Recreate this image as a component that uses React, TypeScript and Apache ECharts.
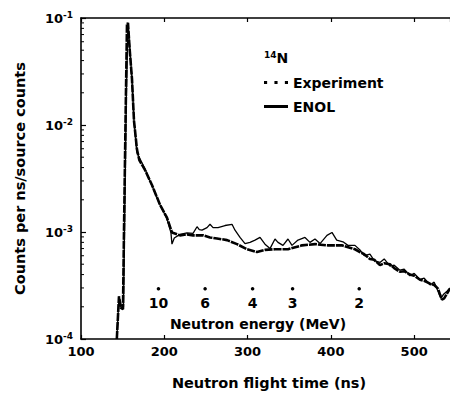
import React, { useEffect, useRef } from "react";
import * as echarts from "echarts";

// ---- data ----
const expTime = [143, 145.6, 148, 150.4, 151.6, 153.4, 155.2, 156.4, 158.5, 161.2, 163.6, 167.2, 170, 176.8, 185.2, 194.8, 203.2, 209.2, 218.8, 227.3, 234.5, 246.5, 254.9, 263.3, 275.3, 287.3, 299.3, 311.3, 320.9, 332.9, 348.5, 365.3, 380.9, 396.5, 413.3, 428.9, 434.9, 440, 446.9, 452, 458.9, 464, 470.9, 476, 482.9, 488, 494.9, 500, 507, 512, 519, 524, 528.6, 531, 533.4, 536, 539.4, 543];
const expCounts = [1.0e-4, 2.5e-4, 1.95e-4, 1.9e-4, 1.0e-3, 1.0e-2, 8.6e-2, 9.0e-2, 5.0e-2, 2.7e-2, 1.1e-2, 5.9e-3, 4.7e-3, 3.8e-3, 2.75e-3, 1.8e-3, 1.36e-3, 9.9e-4, 9.3e-4, 9.5e-4, 9.3e-4, 9.3e-4, 8.9e-4, 8.7e-4, 8.4e-4, 7.7e-4, 6.9e-4, 6.5e-4, 6.8e-4, 6.9e-4, 6.9e-4, 7.5e-4, 7.7e-4, 7.5e-4, 7.5e-4, 6.9e-4, 6.5e-4, 6.2e-4, 5.6e-4, 5.5e-4, 4.9e-4, 5.1e-4, 5.0e-4, 4.6e-4, 4.25e-4, 4.3e-4, 4.0e-4, 3.9e-4, 3.58e-4, 3.5e-4, 3.29e-4, 3.2e-4, 2.96e-4, 2.6e-4, 2.34e-4, 2.4e-4, 2.66e-4, 2.96e-4];

const enolTime = [143, 145.6, 148, 151, 152.5, 154.5, 156.4, 158, 161.2, 163.6, 167.2, 176.8, 185.2, 194.8, 203.2, 208, 209.2, 212, 218.8, 227.3, 234.5, 239.3, 242, 245.3, 251.3, 254.9, 258.5, 264.5, 272.9, 281.3, 284.9, 290.9, 296.9, 302.9, 308.9, 314.9, 320.9, 326.9, 332.9, 336.5, 342.5, 348.5, 353.3, 360.5, 368.9, 374.9, 380.9, 387, 395.3, 401.3, 407, 414.5, 420.5, 428.9, 434.9, 440, 446.9, 452, 458.9, 464, 470.9, 476, 482.9, 488, 494.9, 500, 507, 512, 519, 524, 528.6, 532, 535, 539.4, 543];
const enolCounts = [1.0e-4, 2.5e-4, 1.95e-4, 2.0e-4, 1.5e-3, 2.0e-2, 8.8e-2, 6.0e-2, 2.7e-2, 1.1e-2, 5.5e-3, 3.9e-3, 2.7e-3, 1.8e-3, 1.33e-3, 9.8e-4, 7.7e-4, 8.8e-4, 9.5e-4, 9.8e-4, 9.7e-4, 1.12e-3, 1.05e-3, 1.04e-3, 1.1e-3, 1.18e-3, 1.1e-3, 1.1e-3, 1.15e-3, 1.18e-3, 1.04e-3, 8.9e-4, 7.8e-4, 8.0e-4, 8.4e-4, 8.9e-4, 7.7e-4, 7.0e-4, 8.6e-4, 8.0e-4, 7.5e-4, 8.6e-4, 7.5e-4, 8.4e-4, 8.9e-4, 8.0e-4, 8.6e-4, 7.8e-4, 9.3e-4, 9.9e-4, 8.4e-4, 8.1e-4, 7.5e-4, 7.5e-4, 6.8e-4, 6.0e-4, 6.2e-4, 5.4e-4, 5.2e-4, 5.6e-4, 4.8e-4, 4.9e-4, 4.4e-4, 4.5e-4, 3.9e-4, 4.1e-4, 3.6e-4, 3.7e-4, 3.2e-4, 3.4e-4, 2.8e-4, 2.4e-4, 2.6e-4, 2.8e-4, 3.0e-4];

// secondary energy scale printed inside the plot
const energyMeV = [10, 6, 4, 3, 2];
const energyTime = [193, 249, 306, 354, 434];
const ENERGY_ROW = 2.95e-4;

const X_MIN = 100;
const X_MAX = 543;
const X_STEP = 100;
const Y_MIN = 1e-4;
const Y_MAX = 1e-1;

const FONT = '"DejaVu Sans", sans-serif';

function zip(a: number[], b: number[]) {
  return a.map((v, i) => [v, b[i]]);
}

function minorTickValues() {
  const out: number[] = [];
  for (let d = -4; d < -1; d++) {
    for (let k = 2; k <= 9; k++) out.push(k * Math.pow(10, d));
  }
  return out;
}

export default function App() {
  const ref = useRef<HTMLDivElement>(null);

  useEffect(() => {
    if (!ref.current) return;
    const chart = echarts.init(ref.current, null, { renderer: "svg" });
    const axisLine = { show: true, lineStyle: { color: "#000", width: 1.6 } };
    const tickStyle = { color: "#000", width: 1.2 };

    chart.setOption({
      animation: false,
      backgroundColor: "#fff",
      textStyle: { fontFamily: FONT, color: "#000" },
      grid: { left: 81, right: 0, top: 18, bottom: 52, containLabel: false },
      legend: {
        orient: "vertical",
        left: 264,
        top: 74,
        padding: 0,
        itemWidth: 24,
        itemHeight: 3,
        itemGap: 7,
        symbolKeepAspect: false,
        selectedMode: false,
        textStyle: { color: "#000", fontFamily: FONT, fontWeight: "bold", fontSize: 14, lineHeight: 17 },
        data: [
          { name: "Experiment", icon: "path://M0,0h3v3h-3z M10,0h3v3h-3z M20,0h3v3h-3z" },
          { name: "ENOL", icon: "rect" },
        ],
      },
      xAxis: [
        {
          type: "value",
          position: "bottom",
          min: X_MIN,
          max: X_MAX,
          interval: X_STEP,
          axisLine,
          axisTick: { show: true, inside: true, length: 4, lineStyle: tickStyle },
          axisLabel: { showMaxLabel: false, color: "#000", fontFamily: FONT, fontWeight: "bold", fontSize: 13, margin: 6 },
          splitLine: { show: false },
          name: "Neutron flight time (ns)",
          nameLocation: "middle",
          nameGap: 36,
          nameTextStyle: { color: "#000", fontFamily: FONT, fontWeight: "bold", fontSize: 14.5, padding: [0, 0, 0, 7] },
        },
        {
          type: "value",
          position: "top",
          min: X_MIN,
          max: X_MAX,
          interval: X_STEP,
          axisLine,
          axisTick: { show: true, inside: true, length: 4, lineStyle: tickStyle },
          axisLabel: { show: false },
          splitLine: { show: false },
        },
      ],
      yAxis: {
        type: "log",
        logBase: 10,
        min: Y_MIN,
        max: Y_MAX,
        axisLine,
        axisTick: { show: true, inside: true, length: 5, lineStyle: tickStyle },
        splitLine: { show: false },
        axisLabel: {
          margin: 8,
          color: "#000",
          formatter: (v: number) => `{b|10}{s|-${Math.round(-Math.log10(v))}}`,
          rich: {
            b: { color: "#000", fontFamily: FONT, fontWeight: "bold", fontSize: 13, lineHeight: 16 },
            s: { color: "#000", fontFamily: FONT, fontWeight: "bold", fontSize: 9, lineHeight: 9, verticalAlign: "top" },
          },
        },
        name: "Counts per ns/source counts",
        nameLocation: "middle",
        nameGap: 54,
        nameTextStyle: { color: "#000", fontFamily: FONT, fontWeight: "bold", fontSize: 14.5 },
      },
      graphic: [
        {
          type: "text",
          left: 264,
          top: 50,
          style: {
            text: "{s|14}{b|N}",
            rich: {
              s: { fill: "#000", fontFamily: FONT, fontWeight: "bold", fontSize: 9, lineHeight: 9, verticalAlign: "top" },
              b: { fill: "#000", fontFamily: FONT, fontWeight: "bold", fontSize: 14, lineHeight: 16 },
            },
          },
        },
        {
          type: "text",
          x: 258,
          y: 324,
          style: {
            text: "Neutron energy (MeV)",
            fill: "#000",
            font: `bold 14px ${FONT}`,
            align: "center",
            verticalAlign: "middle",
          },
        },
      ],
      series: [
        {
          name: "Experiment",
          type: "line",
          data: zip(expTime, expCounts),
          showSymbol: false,
          symbol: "none",
          clip: true,
          color: "#000",
          lineStyle: { color: "#000", width: 2.6, type: [8, 1] },
          z: 3,
        },
        {
          name: "ENOL",
          type: "line",
          data: zip(enolTime, enolCounts),
          showSymbol: false,
          symbol: "none",
          clip: true,
          color: "#000",
          lineStyle: { color: "#000", width: 1.3 },
          z: 4,
        },
        {
          name: "Neutron energy",
          type: "scatter",
          data: energyTime.map((t) => [t, ENERGY_ROW]),
          symbol: "circle",
          symbolSize: 3.5,
          itemStyle: { color: "#000", opacity: 1 },
          silent: true,
          label: {
            show: true,
            position: "bottom",
            distance: 6,
            formatter: (p: any) => String(energyMeV[p.dataIndex]),
            color: "#000",
            opacity: 1,
            textBorderWidth: 0,
            fontFamily: FONT,
            fontWeight: "bold",
            fontSize: 14,
          },
        },
        {
          name: "minor ticks",
          type: "custom",
          silent: true,
          clip: false,
          data: minorTickValues().map((v) => [X_MIN, v]),
          encode: { x: 0, y: 1 },
          renderItem: (_params: any, api: any) => {
            const p = api.coord([api.value(0), api.value(1)]);
            return {
              type: "line",
              shape: { x1: p[0], y1: p[1], x2: p[0] + 3, y2: p[1] },
              style: { stroke: "#000", lineWidth: 1 },
            };
          },
          z: 5,
        },
      ],
    });

    return () => chart.dispose();
  }, []);

  return (
    <div
      ref={ref}
      style={{ position: "fixed", left: 0, top: 0, width: 450, height: 395, background: "#fff" }}
    />
  );
}
